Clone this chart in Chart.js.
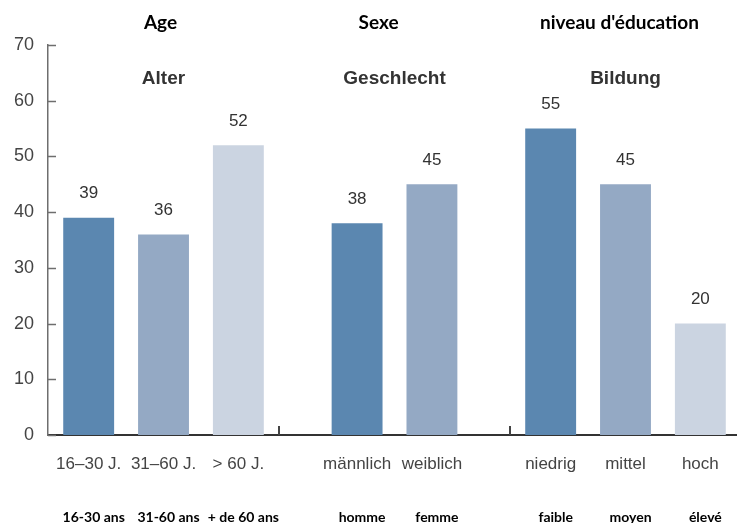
<!DOCTYPE html>
<html>
<head>
<meta charset="utf-8">
<script src="https://cdn.jsdelivr.net/npm/chart.js@4"></script>
<style>
  html, body { margin: 0; padding: 0; background: #fff; overflow: hidden; }
  #wrap { width: 741px; height: 523px; position: relative; }
</style>
</head>
<body>
<div id="wrap"><canvas id="c"></canvas></div>
<script>
// ---- data ----
const groupTitlesDe = ['Alter', 'Geschlecht', 'Bildung'];
const groupTitlesFr = ['Age', 'Sexe', "niveau d'éducation"];

const alterLabels   = ['16–30 J.', '31–60 J.', '> 60 J.'];
const alterLabelsFr = ['16-30 ans', '31-60 ans', '+ de 60 ans'];
const alterValues   = [39, 36, 52];

const sexLabels   = ['männlich', 'weiblich'];
const sexLabelsFr = ['homme', 'femme'];
const sexValues   = [38, 45];

const eduLabels   = ['niedrig', 'mittel', 'hoch'];
const eduLabelsFr = ['faible', 'moyen', 'élevé'];
const eduValues   = [55, 45, 20];

const yTickValues = [0, 10, 20, 30, 40, 50, 60, 70];

// ---- styles ----
const barColors = ['#5b87b0', '#94a9c4', '#cbd4e1'];
const frTitleNudge = [-3, -16, -6];

// ---- build datasets: 5 slot positions within each category ----
const groups = [
  { de: alterLabels, fr: alterLabelsFr, values: alterValues },
  { de: sexLabels, fr: sexLabelsFr, values: sexValues },
  { de: eduLabels, fr: eduLabelsFr, values: eduValues }
];
const SLOTS = 5;
const datasets = [];
for (let s = 0; s < SLOTS; s++) {
  datasets.push({ data: groups.map(() => null), backgroundColor: groups.map(() => '#000'), deLabels: [], frLabels: [] });
}
groups.forEach((g, gi) => {
  const n = g.values.length;
  g.values.forEach((v, i) => {
    const slot = 2 * i - (n - 1) + 2;
    const ds = datasets[slot];
    ds.data[gi] = v;
    ds.backgroundColor[gi] = barColors[i];
    ds.deLabels[gi] = g.de[i];
    ds.frLabels[gi] = g.fr[i];
  });
});

const annot = {
  id: 'annot',
  afterDraw(chart) {
    const ctx = chart.ctx;
    const area = chart.chartArea;
    const xs = chart.scales.x, ys = chart.scales.y;
    ctx.save();
    // inward y ticks
    ctx.strokeStyle = '#6e6e6e';
    ctx.lineWidth = 1.5;
    yTickValues.forEach(v => {
      const y = Math.round(ys.getPixelForValue(v)) + 0.5;
      ctx.beginPath();
      ctx.moveTo(area.left, y);
      ctx.lineTo(area.left + 8, y);
      ctx.stroke();
    });
    // group separators (category boundaries)
    ctx.strokeStyle = '#444';
    ctx.lineWidth = 2;
    for (let i = 0; i < groups.length - 1; i++) {
      const x = Math.round((xs.getPixelForValue(i) + xs.getPixelForValue(i + 1)) / 2);
      ctx.beginPath();
      ctx.moveTo(x, area.bottom);
      ctx.lineTo(x, area.bottom - 9);
      ctx.stroke();
    }
    // group titles
    ctx.textAlign = 'center';
    ctx.textBaseline = 'middle';
    groupTitlesDe.forEach((t, i) => {
      ctx.font = 'bold 19px "Liberation Sans", Arial, sans-serif';
      ctx.fillStyle = '#333';
      ctx.fillText(t, xs.getPixelForValue(i), 79);
      ctx.font = 'bold 19px Lato, "Open Sans", sans-serif';
      ctx.fillStyle = '#000';
      ctx.fillText(groupTitlesFr[i], xs.getPixelForValue(i) + frTitleNudge[i], 23);
    });
    // bar labels
    chart.data.datasets.forEach((ds, di) => {
      const meta = chart.getDatasetMeta(di);
      meta.data.forEach((el, i) => {
        const v = ds.data[i];
        if (v === null || v === undefined) return;
        ctx.textBaseline = 'middle';
        ctx.font = '17px "Liberation Sans", Arial, sans-serif';
        ctx.fillStyle = '#333';
        ctx.fillText(String(v), el.x, el.y - 24);
        ctx.fillStyle = '#444';
        ctx.fillText(ds.deLabels[i], el.x, 464);
        ctx.font = 'bold 14px Lato, "Open Sans", sans-serif';
        ctx.fillStyle = '#000';
        ctx.fillText(ds.frLabels[i], el.x + 5, 517);
      });
    });
    ctx.restore();
  }
};

new Chart(document.getElementById('c'), {
  type: 'bar',
  data: { labels: groupTitlesDe, datasets },
  options: {
    responsive: true,
    maintainAspectRatio: false,
    animation: false,
    layout: { padding: { top: 45, left: 0, right: 0, bottom: 88 } },
    datasets: { bar: { categoryPercentage: 0.81, barPercentage: 1.36 } },
    plugins: { legend: { display: false }, tooltip: { enabled: false } },
    scales: {
      x: {
        type: 'category',
        offset: true,
        z: 1,
        grid: { display: false, drawTicks: false },
        border: { display: true, color: '#333', width: 2 },
        ticks: { display: false }
      },
      y: {
        min: 0, max: 70,
        afterBuildTicks: (scale) => { scale.ticks = yTickValues.map(v => ({ value: v })); },
        grid: { display: false, drawTicks: false },
        border: { display: true, color: '#6e6e6e', width: 1.5 },
        ticks: {
          padding: 14,
          color: '#444',
          font: { size: 18, family: '"Liberation Sans", Arial, sans-serif' }
        }
      }
    }
  },
  plugins: [annot]
});
</script>
</body>
</html>
